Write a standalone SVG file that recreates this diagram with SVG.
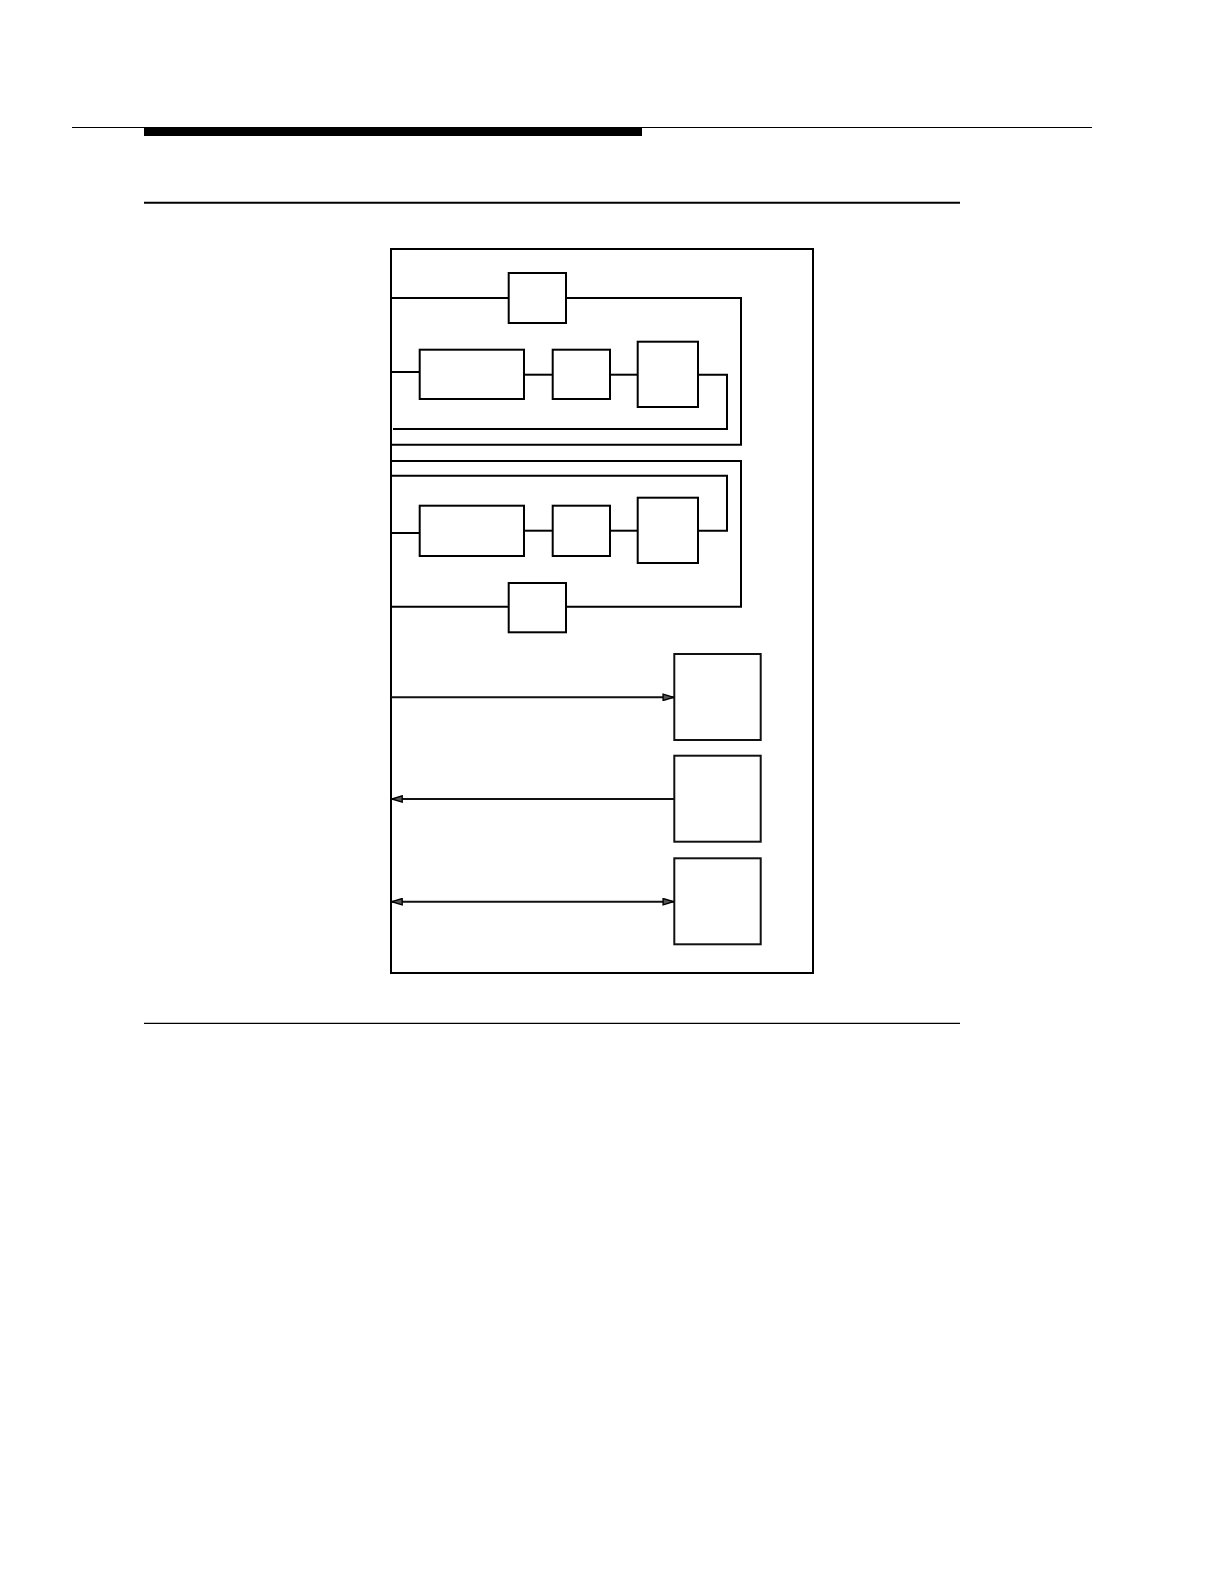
<svg xmlns="http://www.w3.org/2000/svg" width="1224" height="1584" viewBox="0 0 1224 1584">
<defs>
<style>
.box{fill:none;stroke:#000;stroke-width:2}
.box2{fill:none;stroke:#111;stroke-width:2}
.wire{fill:none;stroke:#000;stroke-width:2}
.arr{fill:none;stroke:#111;stroke-width:1.9}
</style>
<marker id="ah" viewBox="0 0 12 8" refX="12" refY="4" markerWidth="12" markerHeight="8" markerUnits="userSpaceOnUse" orient="auto-start-reverse">
<path d="M0.8,0.8 L11.2,4 L0.8,7.2 Z" fill="#555" stroke="#000" stroke-width="1.4"/>
</marker>
</defs>
<rect width="1224" height="1584" fill="#fff"/>
<g id="header">
<line x1="72" y1="127.5" x2="1092" y2="127.5" stroke="#000" stroke-width="1"/>
<rect x="144" y="127" width="498" height="9" fill="#000"/>
<line x1="144" y1="202.7" x2="960" y2="202.7" stroke="#000" stroke-width="2"/>
<line x1="144" y1="1023.3" x2="960" y2="1023.3" stroke="#000" stroke-width="1.3"/>
</g>
<g id="frame"><rect class="box" x="391" y="249" width="422" height="724"/></g>
<g id="nodeA"><rect class="box" x="508.7" y="273" width="57.3" height="50"/></g>
<g id="nodeA1"><rect class="box" x="419.7" y="349.7" width="104.3" height="49.3"/></g>
<g id="nodeA2"><rect class="box" x="552.7" y="349.7" width="57.3" height="49.3"/></g>
<g id="nodeA3"><rect class="box" x="637.7" y="341.7" width="60.3" height="65.3"/></g>
<g id="nodeB1"><rect class="box" x="419.7" y="505.7" width="104.3" height="50.3"/></g>
<g id="nodeB2"><rect class="box" x="552.7" y="505.7" width="57.3" height="50.3"/></g>
<g id="nodeB3"><rect class="box" x="637.7" y="497.7" width="60.3" height="65.3"/></g>
<g id="nodeB"><rect class="box" x="508.7" y="583" width="57.3" height="49.3"/></g>
<g id="nodeC"><rect class="box2" x="674.3" y="654" width="86.4" height="86"/></g>
<g id="nodeD"><rect class="box2" x="674.3" y="755.7" width="86.4" height="86"/></g>
<g id="nodeE"><rect class="box2" x="674.3" y="858.3" width="86.4" height="86"/></g>
<g id="connectors">
<line class="wire" x1="391" y1="298" x2="508.7" y2="298"/>
<polyline class="wire" points="566,298 741,298 741,444.7 391,444.7"/>
<line class="wire" x1="391" y1="372" x2="419.7" y2="372"/>
<line class="wire" x1="524" y1="374.7" x2="552.7" y2="374.7"/>
<line class="wire" x1="610" y1="374.7" x2="637.7" y2="374.7"/>
<polyline class="wire" points="698,374.7 727,374.7 727,429 393,429"/>
<polyline class="wire" points="391,461 741,461 741,606.7 566,606.7"/>
<polyline class="wire" points="391,475.7 727,475.7 727,530.7 698,530.7"/>
<line class="wire" x1="391" y1="533" x2="419.7" y2="533"/>
<line class="wire" x1="524" y1="530.7" x2="552.7" y2="530.7"/>
<line class="wire" x1="610" y1="530.7" x2="637.7" y2="530.7"/>
<line class="wire" x1="391" y1="606.7" x2="508.7" y2="606.7"/>
<line class="arr" x1="391" y1="697.3" x2="674.3" y2="697.3" marker-end="url(#ah)"/>
<line class="arr" x1="674.3" y1="799" x2="391" y2="799" marker-end="url(#ah)"/>
<line class="arr" x1="391" y1="901.7" x2="674.3" y2="901.7" marker-start="url(#ah)" marker-end="url(#ah)"/>
</g>
</svg>
